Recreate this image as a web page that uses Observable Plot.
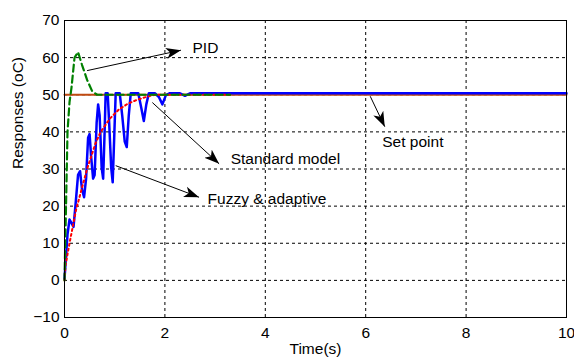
<!DOCTYPE html>
<html>
<head>
<meta charset="utf-8">
<script src="https://cdn.jsdelivr.net/npm/d3@7"></script>
<script src="https://cdn.jsdelivr.net/npm/@observablehq/plot@0.6"></script>
<style>
  html, body { margin: 0; padding: 0; background: #fff; }
</style>
</head>
<body>
<div id="chart"></div>
<script>
// ---- data ----
const xTicks = [0, 2, 4, 6, 8, 10];
const yTicks = [-10, 0, 10, 20, 30, 40, 50, 60, 70];

const setT = [0, 10];
const setV = [50, 50];

const pidT = [0, 0.03, 0.06, 0.1, 0.14, 0.2, 0.27, 0.35, 0.45, 0.55, 0.65, 3.3];
const pidV = [0, 20, 40, 48, 52, 60, 61.5, 58, 54, 51, 50, 50];

const stdT = [0, 0.02, 0.1, 0.23, 0.45, 0.62, 0.72, 0.9, 1.08, 1.25, 1.42, 1.6, 1.8, 3.3];
const stdV = [0, 4, 10, 19, 30, 37, 40, 43.5, 46, 47.5, 48.5, 49.3, 50, 50];

const fuzT = [0, 0.03, 0.06, 0.1, 0.14, 0.18, 0.22, 0.27, 0.31, 0.35, 0.39, 0.43, 0.47, 0.5, 0.53, 0.57, 0.6,
  0.64, 0.67, 0.7, 0.74, 0.77, 0.8, 0.82, 0.86, 0.89, 0.93, 0.96, 0.99, 1.02, 1.06, 1.1, 1.15, 1.2, 1.24,
  1.28, 1.32, 1.4, 1.47, 1.53, 1.58, 1.63, 1.68, 1.8, 1.88, 1.95, 2.02, 2.1, 2.3, 2.4, 2.5, 10];
const fuzV = [0, 6, 12, 16, 15, 14, 20, 28, 29, 24, 22, 27, 38, 39, 33, 27, 28,
  42, 47, 44, 30, 27, 40, 50, 50, 42, 30, 26, 38, 50, 50, 50, 44, 37, 35.5,
  44, 50, 50, 50, 46, 42.5, 47, 50, 50, 49, 47, 49.5, 50, 50, 49.3, 50, 50];

const noteLabels = ["PID", "Standard model", "Fuzzy & adaptive", "Set point"];
const noteTextT = [2.55, 3.31, 2.85, 6.33];
const noteTextV = [62.5, 32.7, 22, 37.3];
const arrowT1 = [0.45, 1.75, 1.02, 6.09];
const arrowV1 = [56.5, 47.9, 30.9, 49.6];
const arrowT2 = [2.32, 3.08, 2.68, 6.38];
const arrowV2 = [62, 31.4, 22.4, 41.4];

// ---- tables ----
const pts = (T, V) => T.map((t, i) => ({t, v: V[i]}));
const setData = pts(setT, setV);
const pidData = pts(pidT, pidV);
const stdData = pts(stdT, stdV);
const fuzData = pts(fuzT, fuzV);
const notes = noteLabels.map((s, i) => ({s, t: noteTextT[i], v: noteTextV[i]}));
const arrows = arrowT1.map((t1, i) => ({t1, v1: arrowV1[i], t2: arrowT2[i], v2: arrowV2[i]}));

function filledArrow(color) {
  return d3.create("svg:marker")
    .attr("viewBox", "-15 -6 16 12")
    .attr("markerWidth", 16)
    .attr("markerHeight", 12)
    .attr("markerUnits", "userSpaceOnUse")
    .attr("refX", 0).attr("refY", 0)
    .attr("orient", "auto")
    .attr("fill", "black")
    .attr("stroke", "none")
    .call(m => m.append("path").attr("d", "M-15,-5.5L0,0L-15,5.5L-11,0Z"))
    .node();
}

const font = "'Liberation Sans', Arial, sans-serif";
const fs = 15.5;

const plot = Plot.plot({
  width: 574,
  height: 360,
  marginLeft: 64,
  marginRight: 8,
  marginTop: 20,
  marginBottom: 43,
  style: {fontFamily: font, fontSize: fs + "px", background: "#fff", color: "#000"},
  x: {domain: [0, 10], ticks: xTicks, label: null},
  y: {domain: [-10, 70], ticks: yTicks, label: null},
  marks: [
    Plot.gridX(xTicks, {stroke: "#000", strokeOpacity: 1, strokeDasharray: "3,3", strokeWidth: 1}),
    Plot.gridY(yTicks, {stroke: "#000", strokeOpacity: 1, strokeDasharray: "3,3", strokeWidth: 1}),
    Plot.axisX(xTicks, {tickSize: 0, tickPadding: 9, fontSize: fs}),
    Plot.axisY(yTicks, {tickSize: 0, tickPadding: 5, fontSize: fs}),
    Plot.line(setData, {x: "t", y: "v", stroke: "#c04a10", strokeWidth: 2}),
    Plot.line(fuzData, {x: "t", y: "v", stroke: "#0000ff", strokeWidth: 2.5, dy: -1.5}),
    Plot.line(stdData, {x: "t", y: "v", stroke: "#ff0000", strokeWidth: 2, strokeDasharray: "2,3"}),
    Plot.line(pidData, {x: "t", y: "v", stroke: "#008000", strokeWidth: 2.2, strokeDasharray: "7,4"}),
    Plot.link(arrows, {x1: "t1", y1: "v1", x2: "t2", y2: "v2", stroke: "#000", strokeWidth: 1, markerEnd: filledArrow}),
    Plot.text(notes, {x: "t", y: "v", text: "s", textAnchor: "start", fill: "#000", fontSize: fs}),
    Plot.text(["Responses (oC)"], {frameAnchor: "left", rotate: -90, dx: -46, fill: "#000", fontSize: fs}),
    Plot.text(["Time(s)"], {frameAnchor: "bottom", dy: 36, fill: "#000", fontSize: fs}),
    Plot.frame({stroke: "#000", strokeWidth: 1})
  ]
});

document.getElementById("chart").appendChild(plot);
</script>
</body>
</html>
